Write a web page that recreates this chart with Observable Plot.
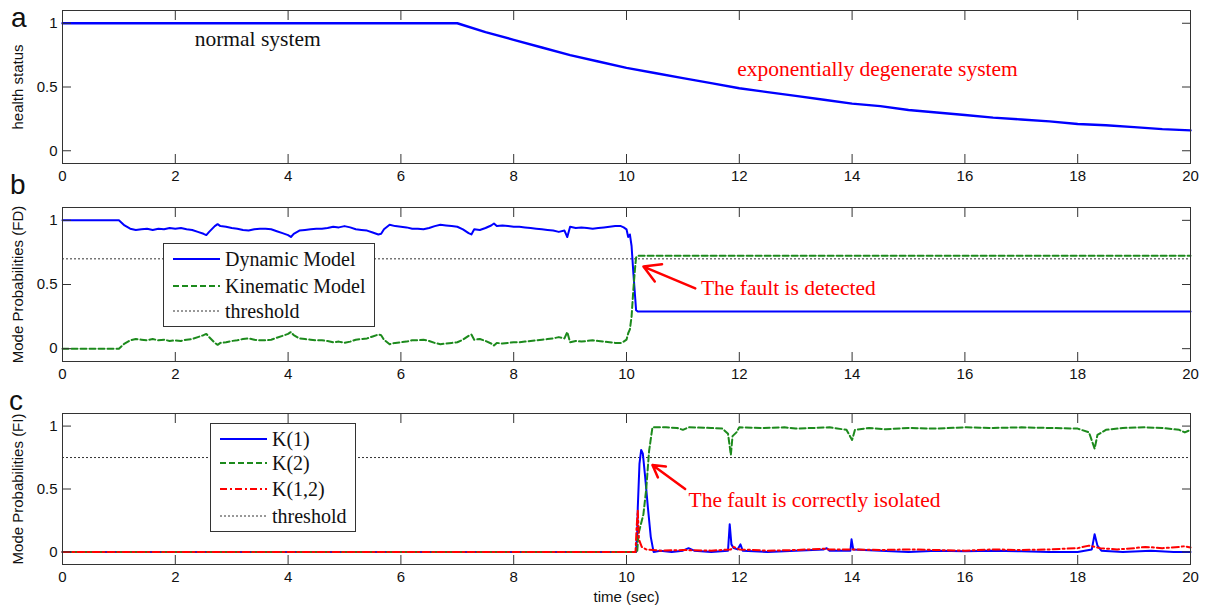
<!DOCTYPE html>
<html><head><meta charset="utf-8">
<script src="https://cdn.jsdelivr.net/npm/d3@7"></script>
<script src="https://cdn.jsdelivr.net/npm/@observablehq/plot@0.6"></script>
<style>
body{margin:0;background:#fff;}
#wrap{position:relative;width:1205px;height:606px;overflow:hidden;background:#fff;}
.panel{position:absolute;left:0;}
.letter{position:absolute;font-family:"Liberation Sans",Arial,sans-serif;font-size:28px;line-height:1;color:#111;}
.legend{position:absolute;background:#fff;border:1px solid #333;box-sizing:border-box;font-family:"Liberation Serif","Times New Roman",serif;font-size:20px;color:#111;}
.row{position:absolute;left:0;height:24px;display:flex;align-items:center;white-space:nowrap;}
.row svg{display:block;}
</style></head><body><div id="wrap"></div>
<script>
// ---------------- data ----------------
const timeTicks = [0, 2, 4, 6, 8, 10, 12, 14, 16, 18, 20];
const probTicks = [0, 0.5, 1];

// panel a: health status [time, value]
const healthStatus = [[0,1],[7,1],[7.5,0.93],[8,0.87],[8.5,0.81],[9,0.75],[9.5,0.70],[10,0.65],[10.5,0.61],[11,0.57],[11.5,0.53],[12,0.49],[12.5,0.46],[13,0.43],[13.5,0.40],[14,0.37],[14.5,0.35],[15,0.32],[15.5,0.30],[16,0.28],[16.5,0.26],[17,0.245],[17.5,0.23],[18,0.21],[18.5,0.20],[19,0.185],[19.5,0.17],[20,0.16]];

// panel b: fault detection mode probabilities [time, value]
const dynamicModel = [[0,1],[1,1],[1.1,0.96],[1.2,0.935],[1.3,0.925],[1.4,0.93],[1.5,0.935],[1.6,0.925],[1.7,0.935],[1.8,0.93],[1.9,0.94],[2.0,0.935],[2.1,0.94],[2.2,0.93],[2.3,0.925],[2.4,0.91],[2.5,0.895],[2.55,0.885],[2.6,0.91],[2.7,0.955],[2.75,0.97],[2.8,0.955],[2.9,0.95],[3.0,0.94],[3.1,0.935],[3.2,0.925],[3.3,0.92],[3.4,0.93],[3.5,0.935],[3.6,0.935],[3.7,0.93],[3.8,0.915],[3.9,0.9],[4.0,0.885],[4.05,0.87],[4.1,0.895],[4.2,0.92],[4.3,0.925],[4.4,0.93],[4.5,0.935],[4.6,0.935],[4.7,0.94],[4.8,0.95],[4.9,0.945],[5.0,0.955],[5.1,0.945],[5.2,0.93],[5.3,0.925],[5.4,0.92],[5.5,0.905],[5.6,0.89],[5.65,0.895],[5.7,0.93],[5.8,0.965],[5.9,0.955],[6.0,0.95],[6.1,0.945],[6.2,0.935],[6.3,0.935],[6.4,0.93],[6.5,0.94],[6.6,0.955],[6.7,0.965],[6.8,0.96],[6.9,0.955],[7.0,0.95],[7.1,0.93],[7.2,0.9],[7.25,0.89],[7.3,0.93],[7.4,0.925],[7.5,0.94],[7.6,0.96],[7.65,0.975],[7.7,0.955],[7.8,0.96],[7.9,0.955],[8.0,0.95],[8.1,0.95],[8.2,0.945],[8.3,0.94],[8.4,0.935],[8.5,0.93],[8.6,0.925],[8.7,0.92],[8.8,0.91],[8.9,0.92],[8.95,0.87],[9.0,0.95],[9.1,0.94],[9.2,0.945],[9.3,0.94],[9.4,0.935],[9.5,0.94],[9.6,0.945],[9.7,0.95],[9.8,0.955],[9.9,0.955],[9.95,0.945],[10.0,0.93],[10.03,0.87],[10.06,0.89],[10.09,0.8],[10.12,0.6],[10.15,0.42],[10.17,0.3],[10.2,0.29],[20,0.29]];
const kinematicModel = [[0,0],[1,0],[1.1,0.04],[1.2,0.065],[1.3,0.075],[1.4,0.07],[1.5,0.065],[1.6,0.075],[1.7,0.065],[1.8,0.07],[1.9,0.06],[2.0,0.065],[2.1,0.06],[2.2,0.07],[2.3,0.075],[2.4,0.09],[2.5,0.105],[2.55,0.115],[2.6,0.09],[2.7,0.045],[2.75,0.03],[2.8,0.045],[2.9,0.05],[3.0,0.06],[3.1,0.065],[3.2,0.075],[3.3,0.08],[3.4,0.07],[3.5,0.065],[3.6,0.065],[3.7,0.07],[3.8,0.085],[3.9,0.1],[4.0,0.115],[4.05,0.13],[4.1,0.105],[4.2,0.08],[4.3,0.075],[4.4,0.07],[4.5,0.065],[4.6,0.065],[4.7,0.06],[4.8,0.05],[4.9,0.055],[5.0,0.045],[5.1,0.055],[5.2,0.07],[5.3,0.075],[5.4,0.08],[5.5,0.095],[5.6,0.11],[5.65,0.105],[5.7,0.07],[5.8,0.035],[5.9,0.045],[6.0,0.05],[6.1,0.055],[6.2,0.065],[6.3,0.065],[6.4,0.07],[6.5,0.06],[6.6,0.045],[6.7,0.035],[6.8,0.04],[6.9,0.045],[7.0,0.05],[7.1,0.07],[7.2,0.1],[7.25,0.11],[7.3,0.07],[7.4,0.075],[7.5,0.06],[7.6,0.04],[7.65,0.025],[7.7,0.045],[7.8,0.04],[7.9,0.045],[8.0,0.05],[8.1,0.05],[8.2,0.055],[8.3,0.06],[8.4,0.065],[8.5,0.07],[8.6,0.075],[8.7,0.08],[8.8,0.09],[8.9,0.08],[8.95,0.13],[9.0,0.05],[9.1,0.06],[9.2,0.055],[9.3,0.06],[9.4,0.065],[9.5,0.06],[9.6,0.055],[9.7,0.05],[9.8,0.045],[9.9,0.045],[9.95,0.055],[10.0,0.07],[10.03,0.12],[10.06,0.15],[10.09,0.25],[10.12,0.45],[10.15,0.62],[10.17,0.71],[10.2,0.725],[20,0.725]];
const thresholdFD = [0.7];

// panel c: fault isolation mode probabilities [time, value]
const k1 = [[0,0],[10.17,0],[10.19,0.15],[10.2,0.35],[10.23,0.7],[10.26,0.81],[10.29,0.78],[10.33,0.6],[10.38,0.35],[10.43,0.12],[10.48,0],[10.6,0.01],[10.8,0],[11.0,0.01],[11.1,0.03],[11.2,0.01],[11.5,0],[11.8,0.01],[11.83,0.22],[11.86,0.06],[11.9,0.03],[11.97,0.02],[12.02,0.06],[12.06,0.01],[12.5,0],[13.0,0.01],[13.5,0.02],[13.55,0.03],[13.6,0.01],[13.97,0.01],[13.99,0.1],[14.02,0.02],[14.5,0.01],[15,0],[15.5,0.01],[16,0.005],[16.5,0.01],[17,0.005],[17.5,0],[18,0],[18.25,0.02],[18.3,0.14],[18.35,0.05],[18.42,0.01],[18.8,0],[19.3,0.01],[19.7,0],[20,0]];
const k2 = [[0,0],[10.19,0],[10.21,0.14],[10.3,0.3],[10.35,0.5],[10.4,0.8],[10.46,0.99],[10.7,0.99],[10.9,0.985],[11.0,0.97],[11.1,0.99],[11.5,0.985],[11.7,0.98],[11.8,0.94],[11.85,0.77],[11.88,0.92],[11.95,0.95],[12.0,0.99],[12.4,0.985],[12.8,0.99],[13.0,0.98],[13.3,0.985],[13.6,0.99],[13.9,0.97],[14.0,0.89],[14.05,0.97],[14.3,0.985],[14.6,0.975],[15,0.985],[15.5,0.98],[16,0.99],[16.5,0.985],[17,0.99],[17.5,0.985],[18.0,0.98],[18.2,0.95],[18.3,0.82],[18.35,0.93],[18.5,0.97],[18.8,0.985],[19.2,0.99],[19.5,0.985],[19.8,0.97],[19.9,0.95],[20,0.97]];
const k12 = [[0,0],[10.16,0],[10.18,0.2],[10.2,0.33],[10.22,0.1],[10.27,0.04],[10.35,0.02],[10.6,0.01],[11,0.015],[11.5,0.01],[11.85,0.02],[11.9,0.04],[12.0,0.02],[12.5,0.01],[13.0,0.015],[13.5,0.025],[13.6,0.02],[14,0.02],[14.5,0.015],[15,0.02],[15.5,0.015],[16,0.01],[16.5,0.02],[17,0.015],[17.5,0.02],[18,0.03],[18.2,0.05],[18.4,0.03],[18.7,0.02],[19.0,0.03],[19.2,0.04],[19.5,0.03],[19.8,0.04],[19.9,0.045],[20,0.035]];
const thresholdFI = [0.75];

// annotations (data coordinates)
const noteNormal = [{t: 3.46, v: 0.875, label: "normal system"}];
const noteDegenerate = [{t: 14.45, v: 0.64, label: "exponentially degenerate system"}];
const noteDetected = [{t1: 11.22, v1: 0.47, t2: 10.3, v2: 0.64, tx: 11.32, vx: 0.47, label: "The fault is detected"}];
const noteIsolated = [{t1: 11.04, v1: 0.5, t2: 10.46, v2: 0.69, tx: 11.1, vx: 0.41, label: "The fault is correctly isolated"}];

const legendFD = [
  {label: "Dynamic Model", color: "#0000ff", dash: "none", width: 2},
  {label: "Kinematic Model", color: "#1c8a1c", dash: "6,3", width: 2},
  {label: "threshold", color: "#333", dash: "2,2", width: 1}
];
const legendFI = [
  {label: "K(1)", color: "#0000ff", dash: "none", width: 2},
  {label: "K(2)", color: "#1c8a1c", dash: "6,3", width: 2},
  {label: "K(1,2)", color: "#ff0000", dash: "7,3,2,3", width: 2},
  {label: "threshold", color: "#333", dash: "2,2", width: 1}
];

// ---------------- drawing ----------------
const BLUE = "#0000ff", GREEN = "#1c8a1c", RED = "#ff0000";
const SERIF = "Liberation Serif, Times New Roman, serif";
const tx = d => d[0], vy = d => d[1];

function panel({height, marginTop, marginBottom, yLabel, xLabel = null, marks}) {
  return Plot.plot({
    width: 1205, height, marginLeft: 62, marginRight: 15, marginTop, marginBottom,
    style: {fontFamily: "Liberation Sans, Arial, sans-serif", fontSize: "15px", background: "transparent", color: "#111", overflow: "visible"},
    x: {domain: [0, 20]},
    y: {domain: [-0.1, 1.1]},
    marks: [
      ...marks,
      Plot.frame({stroke: "#333"}),
      Plot.axisX({anchor: "bottom", ticks: timeTicks, tickSize: -9, tickPadding: 16, stroke: "#333", tickFormat: d => String(d), label: xLabel, labelAnchor: "center", labelArrow: "none", labelOffset: 37}),
      Plot.axisX({anchor: "top", ticks: timeTicks, tickSize: -9, stroke: "#333", tickFormat: () => "", label: null}),
      Plot.axisY({anchor: "left", ticks: probTicks, tickSize: -9, tickPadding: 14, stroke: "#333", tickFormat: d => String(d), label: yLabel, labelAnchor: "center", labelArrow: "none", labelOffset: 50}),
      Plot.axisY({anchor: "right", ticks: probTicks, tickSize: -9, stroke: "#333", tickFormat: () => "", label: null})
    ]
  });
}

const wrap = document.getElementById("wrap");
function place(node, top) {
  const d = document.createElement("div");
  d.className = "panel";
  d.style.top = top + "px";
  d.appendChild(node);
  wrap.appendChild(d);
}

// panel a
place(panel({
  height: 190, marginTop: 10, marginBottom: 27, yLabel: "health status",
  marks: [
    Plot.line(healthStatus, {x: tx, y: vy, stroke: BLUE, strokeWidth: 2.4}),
    Plot.text(noteNormal, {x: "t", y: "v", text: "label", fill: "#111", fontFamily: SERIF, fontSize: 21.5}),
    Plot.text(noteDegenerate, {x: "t", y: "v", text: "label", fill: RED, fontFamily: SERIF, fontSize: 21.5})
  ]
}), 0);

// panel b
place(panel({
  height: 202, marginTop: 17, marginBottom: 31, yLabel: "Mode Probabilities (FD)",
  marks: [
    Plot.ruleY(thresholdFD, {stroke: "#333", strokeWidth: 1, strokeDasharray: "2,2"}),
    Plot.line(dynamicModel, {x: tx, y: vy, stroke: BLUE, strokeWidth: 2}),
    Plot.line(kinematicModel, {x: tx, y: vy, stroke: GREEN, strokeWidth: 2, strokeDasharray: "6,3"}),
    Plot.arrow(noteDetected, {x1: "t1", y1: "v1", x2: "t2", y2: "v2", stroke: RED, strokeWidth: 2.5, headLength: 14}),
    Plot.text(noteDetected, {x: "tx", y: "vx", text: "label", fill: RED, fontFamily: SERIF, fontSize: 21.5, textAnchor: "start"})
  ]
}), 190);

// panel c
place(panel({
  height: 214, marginTop: 21, marginBottom: 42, yLabel: "Mode Probabilities (FI)", xLabel: "time (sec)",
  marks: [
    Plot.ruleY(thresholdFI, {stroke: "#333", strokeWidth: 1, strokeDasharray: "2,2"}),
    Plot.line(k1, {x: tx, y: vy, stroke: BLUE, strokeWidth: 2}),
    Plot.line(k2, {x: tx, y: vy, stroke: GREEN, strokeWidth: 2, strokeDasharray: "6,3"}),
    Plot.line(k12, {x: tx, y: vy, stroke: RED, strokeWidth: 2, strokeDasharray: "7,3,2,3"}),
    Plot.arrow(noteIsolated, {x1: "t1", y1: "v1", x2: "t2", y2: "v2", stroke: RED, strokeWidth: 2.5, headLength: 14}),
    Plot.text(noteIsolated, {x: "tx", y: "vx", text: "label", fill: RED, fontFamily: SERIF, fontSize: 21.5, textAnchor: "start"})
  ]
}), 392);

// panel letters
[["a", 11, 4], ["b", 10, 171], ["c", 9, 387]].forEach(([t, l, top]) => {
  const d = document.createElement("div");
  d.className = "letter";
  d.textContent = t;
  d.style.left = l + "px";
  d.style.top = top + "px";
  wrap.appendChild(d);
});

// legends
function legend(items, box, rows) {
  const d = document.createElement("div");
  d.className = "legend";
  Object.assign(d.style, {left: box[0] + "px", top: box[1] + "px", width: box[2] + "px", height: box[3] + "px"});
  items.forEach((it, i) => {
    const r = document.createElement("div");
    r.className = "row";
    r.style.top = (rows[i] - 12) + "px";
    const ns = "http://www.w3.org/2000/svg";
    const s = document.createElementNS(ns, "svg");
    s.setAttribute("width", 58); s.setAttribute("height", 6);
    const ln = document.createElementNS(ns, "line");
    ln.setAttribute("x1", 9); ln.setAttribute("x2", 56); ln.setAttribute("y1", 3); ln.setAttribute("y2", 3);
    ln.setAttribute("stroke", it.color); ln.setAttribute("stroke-width", it.width);
    if (it.dash !== "none") ln.setAttribute("stroke-dasharray", it.dash);
    s.appendChild(ln);
    r.appendChild(s);
    const sp = document.createElement("span");
    sp.textContent = it.label;
    sp.style.marginLeft = "3px";
    r.appendChild(sp);
    d.appendChild(r);
  });
  wrap.appendChild(d);
}
legend(legendFD, [163, 243, 212, 84], [15, 42, 67]);
legend(legendFI, [210, 423, 146, 109], [15, 39, 65, 92]);
</script></body></html>
